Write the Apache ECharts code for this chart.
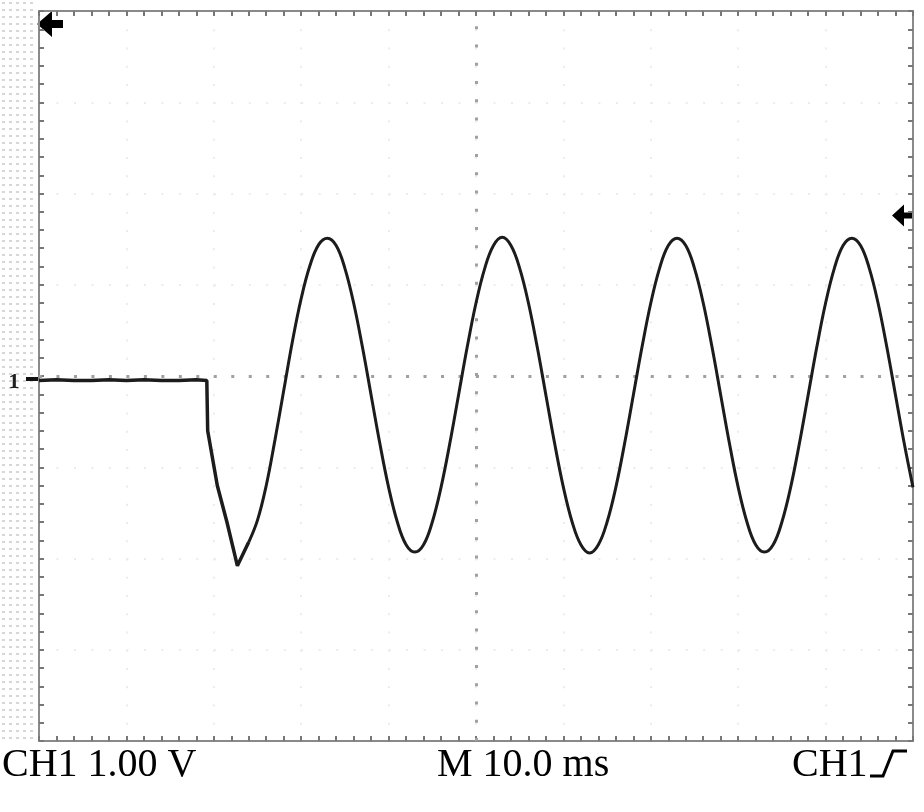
<!DOCTYPE html>
<html>
<head>
<meta charset="utf-8">
<script src="https://cdn.jsdelivr.net/npm/echarts@6/dist/echarts.min.js"></script>
<style>
  html, body { margin: 0; padding: 0; background: #fff; }
  #scope { width: 924px; height: 812px; }
</style>
</head>
<body>
<div id="scope"></div>
<script>
// time axis: 10 div x 10 ms, volt axis: 8 div x 1.00 V
const timeTicksMs = [0, 10, 20, 30, 40, 50, 60, 70, 80, 90, 100];
const voltTicks = [-4, -3, -2, -1, 0, 1, 2, 3, 4];

// CH1 trace: flat before the trigger, then the drop
const startTimeMs = [0, 2, 4, 6, 8, 10, 12, 14, 16, 18, 19.2, 19.3, 20.4, 21.5, 22.7, 24];
const startVolts = [-0.05, -0.04, -0.05, -0.05, -0.04, -0.05, -0.04, -0.05, -0.05, -0.04, -0.05, -0.6, -1.2, -1.6, -2.08, -1.82];

// the ringing part (about 50 Hz)
const waveTimeMs = [24, 25, 26, 27, 28, 29, 30, 31, 32,
  33, 34, 35, 36, 37, 38, 39, 40, 41, 42, 43, 44, 45, 46, 47, 48, 49, 50, 51, 52,
  53, 54, 55, 56, 57, 58, 59, 60, 61, 62, 63, 64, 65, 66, 67, 68, 69, 70, 71, 72,
  73, 74, 75, 76, 77, 78, 79, 80, 81, 82, 83, 84, 85, 86, 87, 88, 89, 90, 91, 92,
  93, 94, 95, 96, 97, 98, 99, 100];
const waveVolts = [-1.82, -1.58, -1.2, -0.7, -0.16, 0.38, 0.85, 1.21, 1.44,
  1.51, 1.43, 1.18, 0.8, 0.32, -0.21, -0.74, -1.22, -1.6, -1.85, -1.93, -1.85, -1.6, -1.22, -0.74, -0.21, 0.32, 0.8, 1.18, 1.43,
  1.52, 1.43, 1.18, 0.8, 0.32, -0.21, -0.74, -1.22, -1.6, -1.85, -1.94, -1.85, -1.6, -1.22, -0.74, -0.21, 0.32, 0.8, 1.18, 1.43,
  1.51, 1.43, 1.18, 0.8, 0.32, -0.21, -0.74, -1.22, -1.6, -1.85, -1.93, -1.85, -1.6, -1.22, -0.74, -0.21, 0.32, 0.8, 1.18, 1.43,
  1.51, 1.43, 1.18, 0.8, 0.32, -0.21, -0.74, -1.22];

const trigLevelVolts = 1.76;

let chart = echarts.init(document.getElementById('scope'), null, { renderer: 'canvas' });

const frameColor = '#8a8a8a';
const minDivX = 87.4 / 5;
const minDivY = 91.25 / 5;
const tMin = timeTicksMs[0], tMax = timeTicksMs[timeTicksMs.length - 1];
const vMin = voltTicks[0], vMax = voltTicks[voltTicks.length - 1];

// frame edges carry a tick at every fifth of a division
function frameAxis(extra) {
  return Object.assign({
    type: 'value',
    axisLine: { show: true, onZero: false, lineStyle: { color: frameColor, width: 2 } },
    axisTick: { show: true, inside: true, length: 5, lineStyle: { color: '#777', width: 2 } },
    axisLabel: { show: false },
    splitLine: { show: false }
  }, extra);
}

// faint graticule at each major division
function gridAxis(extra) {
  return Object.assign({
    type: 'value',
    axisLine: { show: false },
    axisTick: { show: false },
    axisLabel: { show: false }
  }, extra);
}

function pairs(xs, ys) {
  return xs.map((x, i) => [x, ys[i]]);
}

let option = {
  animation: false,
  backgroundColor: '#fff',
  grid: { left: 39, right: 11, top: 11, bottom: 71 },
  xAxis: [
    frameAxis({ position: 'bottom', min: tMin, max: tMax, interval: 2 }),
    frameAxis({ position: 'top', min: tMin, max: tMax, interval: 2 }),
    gridAxis({ min: tMin, max: tMax, interval: 10,
      splitLine: { show: true, lineStyle: { color: '#ececec', width: 2, type: [2, minDivY - 2] } } })
  ],
  yAxis: [
    frameAxis({ position: 'left', min: vMin, max: vMax, interval: 0.2 }),
    frameAxis({ position: 'right', min: vMin, max: vMax, interval: 0.2 }),
    gridAxis({ min: vMin, max: vMax, interval: 1,
      splitLine: { show: true, lineStyle: { color: '#ececec', width: 2, type: [2, minDivX - 2] } } })
  ],
  series: [
    {
      name: 'CH1 start',
      type: 'line',
      showSymbol: false,
      data: pairs(startTimeMs, startVolts),
      lineStyle: { color: '#1c1c1c', width: 3.5 },
      z: 5
    },
    {
      name: 'CH1',
      type: 'line',
      showSymbol: false,
      smooth: 0.4,
      data: pairs(waveTimeMs, waveVolts),
      lineStyle: { color: '#1c1c1c', width: 3 },
      z: 5,
      markLine: {
        silent: true,
        symbol: ['none', 'none'],
        label: { show: false },
        lineStyle: { color: '#a0a0a0', width: 3 },
        data: [
          { xAxis: 50, lineStyle: { type: [3, minDivY - 3] } },
          { yAxis: 0, lineStyle: { type: [3, minDivX - 3] } }
        ]
      }
    }
  ]
};

chart.setOption(option);

// screen furniture: markers and readout
function arrow(tipX, tipY, headLen, headHalf, tailLen, tailHalf) {
  return [
    [tipX, tipY],
    [tipX + headLen, tipY - headHalf],
    [tipX + headLen, tipY - tailHalf],
    [tipX + headLen + tailLen, tipY - tailHalf],
    [tipX + headLen + tailLen, tipY + tailHalf],
    [tipX + headLen, tipY + tailHalf],
    [tipX + headLen, tipY + headHalf]
  ];
}

let dots = document.createElement('canvas');
dots.width = 7;
dots.height = 7;
let dctx = dots.getContext('2d');
dctx.fillStyle = '#d6d6d6';
dctx.fillRect(2, 2, 3, 2);

let topLeft = chart.convertToPixel({ gridIndex: 0 }, [tMin, vMax]);
let trig = chart.convertToPixel({ gridIndex: 0 }, [tMax, trigLevelVolts]);
let ground = chart.convertToPixel({ gridIndex: 0 }, [tMin, 0]);

const textStyle = { fill: '#000', fontFamily: 'Liberation Serif', fontSize: 40, verticalAlign: 'middle' };

chart.setOption({
  graphic: [
    { type: 'rect', z: -1, shape: { x: 0, y: 0, width: 35, height: 740 }, style: { fill: { image: dots, repeat: 'repeat' } } },
    { type: 'polygon', shape: { points: arrow(topLeft[0] - 2, topLeft[1] + 13, 15, 13, 11, 4) }, style: { fill: '#000' } },
    { type: 'polygon', shape: { points: arrow(trig[0] - 21, trig[1], 12, 11, 10, 3) }, style: { fill: '#000' } },
    { type: 'line', shape: { x1: 26, y1: ground[1] + 3, x2: 40, y2: ground[1] + 3 }, style: { stroke: '#111', lineWidth: 4 } },
    { type: 'text', x: 14, y: ground[1] + 6, style: { text: '1', fill: '#222', fontFamily: 'Liberation Serif', fontSize: 22, fontWeight: 'bold', align: 'center', verticalAlign: 'middle' } },
    { type: 'text', x: 2, y: 765, style: Object.assign({ text: 'CH1 1.00 V', align: 'left' }, textStyle) },
    { type: 'text', x: 437, y: 765, style: Object.assign({ text: 'M 10.0 ms', align: 'left' }, textStyle) },
    { type: 'text', x: 792, y: 765, style: Object.assign({ text: 'CH1', align: 'left' }, textStyle) },
    { type: 'polyline', shape: { points: [[870, 776], [883, 776], [893, 751], [907, 751]] }, style: { stroke: '#000', lineWidth: 3, fill: null } }
  ]
});
</script>
</body>
</html>
